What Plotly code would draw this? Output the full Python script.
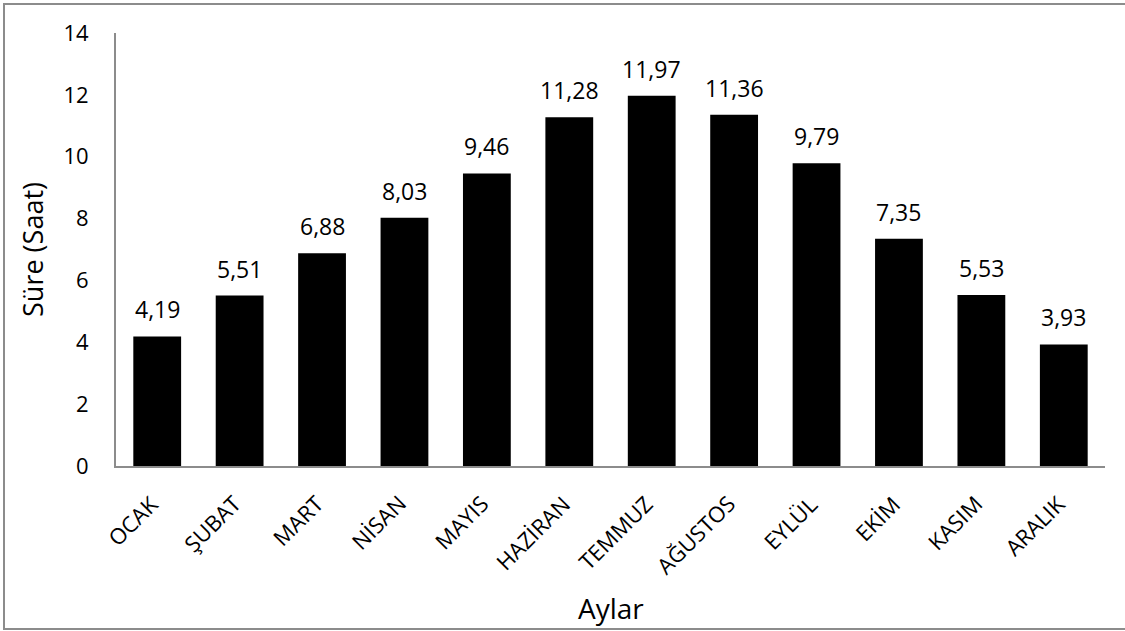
import plotly.graph_objects as go

months = ["OCAK", "ŞUBAT", "MART", "NİSAN", "MAYIS", "HAZİRAN", "TEMMUZ",
          "AĞUSTOS", "EYLÜL", "EKİM", "KASIM", "ARALIK"]
hours = [4.19, 5.51, 6.88, 8.03, 9.46, 11.28, 11.97, 11.36, 9.79, 7.35, 5.53, 3.93]
labels = [f"{v:.2f}".replace(".", ",") for v in hours]
y_ticks = [0, 2, 4, 6, 8, 10, 12, 14]

FONT = "Open Sans"
W, H = 1125, 631
ml, mr, mt, mb = 116, 20, 33, 165
pw, ph = W - ml - mr, H - mt - mb

fig = go.Figure(go.Bar(
    x=months, y=hours,
    marker=dict(color="black", line=dict(width=0)),
    cliponaxis=False,
))

fig.update_layout(
    width=W, height=H,
    margin=dict(l=ml, r=mr, t=mt, b=mb, autoexpand=False),
    paper_bgcolor="white", plot_bgcolor="white",
    bargap=0.42,
    showlegend=False,
    font=dict(family=FONT, color="black"),
    xaxis=dict(
        type="category", range=[-0.5, len(months) - 0.5], autorange=False,
        showticklabels=False, automargin=False,
        showline=True, linecolor="#8c8c8c", linewidth=2, ticks="",
        showgrid=False,
    ),
    yaxis=dict(
        range=[0, 14], autorange=False, tickvals=y_ticks, automargin=False,
        tickfont=dict(family=FONT, size=22, color="black"),
        showline=True, linecolor="#8c8c8c", linewidth=2, ticks="",
        ticklabelstandoff=21,
        showgrid=False, zeroline=False,
        title=dict(text="Süre (Saat)", font=dict(family=FONT, size=27, color="black"), standoff=12),
    ),
)

# value labels above bars
for m, v, t in zip(months, hours, labels):
    fig.add_annotation(x=m, y=v, xref="x", yref="y", text=t, showarrow=False,
                       xanchor="center", yanchor="bottom", yshift=9,
                       font=dict(family=FONT, size=23, color="black"))

# rotated category labels
for m in months:
    fig.add_annotation(x=m, y=0, xref="x", yref="y", text=m, showarrow=False,
                       textangle=-45, xanchor="right", yanchor="top",
                       xshift=10, yshift=-20,
                       font=dict(family=FONT, size=22, color="black"))

# x-axis title
fig.add_annotation(x=0.5, y=-(608 - (H - mb)) / ph, xref="paper", yref="paper",
                   text="Aylar", showarrow=False, xanchor="center", yanchor="middle",
                   font=dict(family=FONT, size=28, color="black"))

# figure border (outer frame like the Excel chart area)
x0 = (4 - ml) / pw
x1 = (W + 10 - ml) / pw
y0 = (H - mb - 629) / ph
y1 = (H - mb - 4) / ph
fig.add_shape(type="rect", xref="paper", yref="paper", x0=x0, x1=x1, y0=y0, y1=y1,
              line=dict(color="#8c8c8c", width=2), fillcolor="rgba(0,0,0,0)", layer="below")

fig.write_html("out.html")
